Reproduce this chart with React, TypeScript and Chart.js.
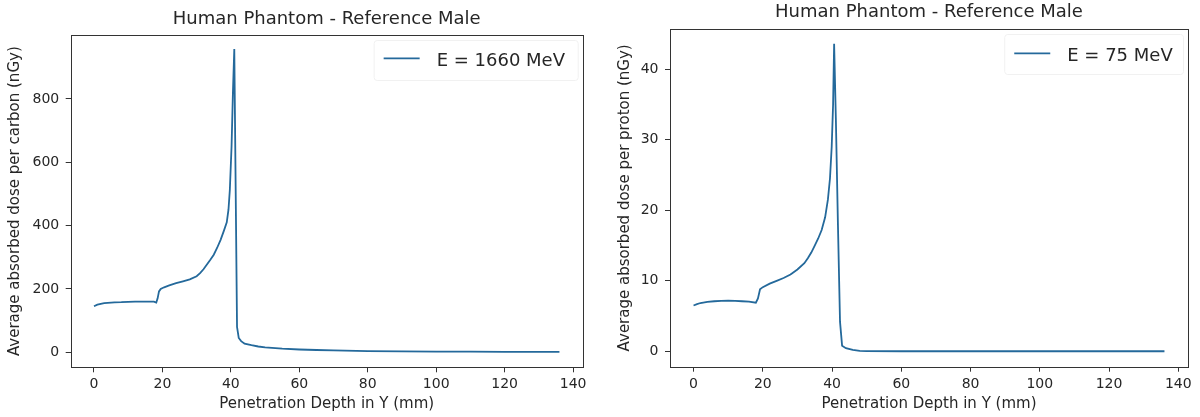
import React, { useEffect, useRef } from 'react';
import { Chart, registerables } from 'chart.js';

Chart.register(...registerables);

// ---------- data ----------
const chartTitle = 'Human Phantom - Reference Male';
const xAxisTitle = 'Penetration Depth in Y (mm)';
const xTickValues = [0, 20, 40, 60, 80, 100, 120, 140];
const xLimits = [-6.8, 142.8];

const carbonLabel = 'E = 1660 MeV';
const carbonYTitle = 'Average absorbed dose per carbon (nGy)';
const carbonYTicks = [0, 200, 400, 600, 800];
const carbonYLimits = [-47.7, 1002];
const carbonDepth = [
  0, 1, 2, 3, 4, 6, 8, 10, 12, 14, 16, 17.5, 18.2, 18.6, 19, 19.5, 20.5, 22, 24, 26, 28, 30, 31, 32, 33,
  34, 35, 36, 37, 38, 38.8, 39.3, 39.7, 40.2, 40.6, 41, 41.8, 42.3, 43, 44, 46, 48, 50, 55, 60, 65, 70,
  80, 90, 100, 110, 120, 136,
];
const carbonDose = [
  145, 150, 153, 155, 156, 157.5, 158, 159, 159.5, 160, 160, 160, 157, 170, 192, 200, 205, 211, 218, 224,
  230, 240, 250, 262, 277, 292, 308, 330, 355, 385, 410, 450, 513, 650, 820, 958, 80, 45, 35, 27, 22, 18,
  15, 11, 8.5, 7, 5.5, 3.5, 2.5, 2, 1.5, 1.2, 1,
];

const protonLabel = 'E = 75 MeV';
const protonYTitle = 'Average absorbed dose per proton (nGy)';
const protonYTicks = [0, 10, 20, 30, 40];
const protonYLimits = [-2.18, 45.7];
const protonDepth = [
  0, 1, 2, 4, 6, 8, 10, 12, 14, 16, 18, 18.6, 19.2, 20, 22, 24, 26, 28, 30, 32, 33, 34, 35, 36, 37, 38,
  38.8, 39.4, 39.9, 40.3, 40.6, 41.1, 41.7, 42.3, 42.9, 44, 46, 48, 50, 60, 80, 100, 120, 136,
];
const protonDose = [
  6.5, 6.7, 6.85, 7.0, 7.1, 7.15, 7.2, 7.15, 7.1, 7.05, 6.9, 7.5, 8.8, 9.1, 9.6, 10.0, 10.4, 10.9, 11.6,
  12.5, 13.2, 14.0, 15.0, 16.0, 17.2, 19.0, 21.5, 24.5, 29, 35, 43.6, 33, 18, 4.2, 0.8, 0.45, 0.2, 0.05,
  0.02, 0.01, 0.01, 0.01, 0.01, 0.01,
];

// ---------- styling ----------
const FONT = '"DejaVu Sans", sans-serif';
const LINE_COLOR = '#24699b';
const TEXT_COLOR = '#262626';
const AXIS_COLOR = '#333333';

const framePlugin = {
  id: 'frameLegend',
  afterDraw(chart: any, _args: any, opts: any) {
    const { ctx, chartArea: a } = chart;
    ctx.save();
    ctx.strokeStyle = AXIS_COLOR;
    ctx.lineWidth = 1;
    ctx.strokeRect(
      Math.round(a.left) + 0.5,
      Math.round(a.top) + 0.5,
      Math.round(a.right - a.left),
      Math.round(a.bottom - a.top)
    );
    const ds = chart.data.datasets[0];
    ctx.font = `18px ${FONT}`;
    const text = ds.label;
    const tw = ctx.measureText(text).width;
    const textRight = a.right - opts.rightGap;
    const textLeft = textRight - tw;
    const baseline = a.top + opts.baseline;
    const lineEnd = textLeft - 17;
    const lineStart = lineEnd - 36;
    // faint legend frame
    ctx.strokeStyle = '#f1f1f1';
    ctx.lineWidth = 1;
    const fx = lineStart - 10;
    const fy = a.top + 5;
    const fw = a.right - 5 - fx;
    const fh = 40;
    ctx.beginPath();
    if ((ctx as any).roundRect) (ctx as any).roundRect(fx + 0.5, fy + 0.5, fw, fh, 3);
    else ctx.rect(fx + 0.5, fy + 0.5, fw, fh);
    ctx.stroke();
    ctx.fillStyle = TEXT_COLOR;
    ctx.textBaseline = 'alphabetic';
    ctx.textAlign = 'left';
    ctx.fillText(text, textLeft, baseline);
    ctx.strokeStyle = ds.borderColor;
    ctx.lineWidth = 1.8;
    ctx.beginPath();
    ctx.moveTo(lineStart, baseline - 7.4);
    ctx.lineTo(lineEnd, baseline - 7.4);
    ctx.stroke();
    ctx.restore();
  },
};

type PanelProps = {
  depth: number[];
  dose: number[];
  label: string;
  yTitle: string;
  yTicks: number[];
  yLimits: number[];
  // layout
  yAxisWidth: number;
  xAxisHeight: number;
  rightPad: number;
  titleTop: number;
  titleBottom: number;
  yTitlePad: number;
  legendBaseline: number;
  legendRightGap: number;
};

function Panel(p: PanelProps) {
  const ref = useRef<HTMLCanvasElement | null>(null);
  useEffect(() => {
    if (!ref.current) return;
    const points = p.depth.map((x, i) => ({ x, y: p.dose[i] }));
    const chart = new Chart(ref.current, {
      type: 'line',
      data: {
        datasets: [
          {
            label: p.label,
            data: points,
            borderColor: LINE_COLOR,
            backgroundColor: LINE_COLOR,
            borderWidth: 1.8,
            pointRadius: 0,
            tension: 0,
            fill: false,
          },
        ],
      },
      options: {
        responsive: false,
        animation: false,
        devicePixelRatio: 1,
        events: [],
        layout: { padding: { left: 0, right: p.rightPad, top: 0, bottom: 0 }, autoPadding: false } as any,
        plugins: {
          legend: { display: false },
          tooltip: { enabled: false },
          title: {
            display: true,
            text: chartTitle,
            fullSize: false,
            color: TEXT_COLOR,
            font: { family: FONT, size: 18, weight: 'normal', lineHeight: 1.2 },
            padding: { top: p.titleTop, bottom: p.titleBottom },
          },
          frameLegend: { baseline: p.legendBaseline, rightGap: p.legendRightGap },
        } as any,
        scales: {
          x: {
            type: 'linear',
            min: xLimits[0],
            max: xLimits[1],
            afterBuildTicks: (s: any) => {
              s.ticks = xTickValues.map((v) => ({ value: v }));
            },
            afterFit: (s: any) => {
              s.height = p.xAxisHeight;
            },
            border: { display: false },
            grid: { drawOnChartArea: false, drawTicks: true, tickLength: 5, tickColor: AXIS_COLOR, tickWidth: 1 },
            ticks: {
              autoSkip: false,
              maxRotation: 0,
              padding: 4,
              color: TEXT_COLOR,
              font: { family: FONT, size: 14, lineHeight: 1.2 },
            },
            title: {
              display: true,
              text: xAxisTitle,
              color: TEXT_COLOR,
              font: { family: FONT, size: 15, lineHeight: 1.2 },
              padding: { top: 0, bottom: 3.8 },
            },
          },
          y: {
            type: 'linear',
            min: p.yLimits[0],
            max: p.yLimits[1],
            afterBuildTicks: (s: any) => {
              s.ticks = p.yTicks.map((v) => ({ value: v }));
            },
            afterFit: (s: any) => {
              s.width = p.yAxisWidth;
            },
            border: { display: false },
            grid: { drawOnChartArea: false, drawTicks: true, tickLength: 5, tickColor: AXIS_COLOR, tickWidth: 1 },
            ticks: {
              autoSkip: false,
              padding: 6.5,
              color: TEXT_COLOR,
              font: { family: FONT, size: 14, lineHeight: 1.2 },
            },
            title: {
              display: true,
              text: p.yTitle,
              color: TEXT_COLOR,
              font: { family: FONT, size: 15, lineHeight: 1.2 },
              padding: { top: p.yTitlePad, bottom: 0 },
            },
          },
        },
      },
      plugins: [framePlugin as any],
    });
    return () => chart.destroy();
  }, []);
  return <canvas ref={ref} width={600} height={417} style={{ display: 'block', width: 600, height: 417 }} />;
}

export default function App() {
  return (
    <div style={{ position: 'fixed', left: 0, top: 0, width: 1200, height: 417, background: '#fff' }}>
      <div style={{ position: 'absolute', left: 0, top: 0, width: 600, height: 417 }}>
        <Panel
          depth={carbonDepth}
          dose={carbonDose}
          label={carbonLabel}
          yTitle={carbonYTitle}
          yTicks={carbonYTicks}
          yLimits={carbonYLimits}
          yAxisWidth={70.7}
          xAxisHeight={49.7}
          rightPad={17.3}
          titleTop={9}
          titleBottom={4.4}
          yTitlePad={6.5}
          legendBaseline={30.7}
          legendRightGap={17.7}
        />
      </div>
      <div style={{ position: 'absolute', left: 600, top: 0, width: 600, height: 417 }}>
        <Panel
          depth={protonDepth}
          dose={protonDose}
          label={protonLabel}
          yTitle={protonYTitle}
          yTicks={protonYTicks}
          yLimits={protonYLimits}
          yAxisWidth={70}
          xAxisHeight={50.3}
          rightPad={12}
          titleTop={2}
          titleBottom={5.4}
          yTitlePad={16.5}
          legendBaseline={31.7}
          legendRightGap={15.3}
        />
      </div>
    </div>
  );
}
